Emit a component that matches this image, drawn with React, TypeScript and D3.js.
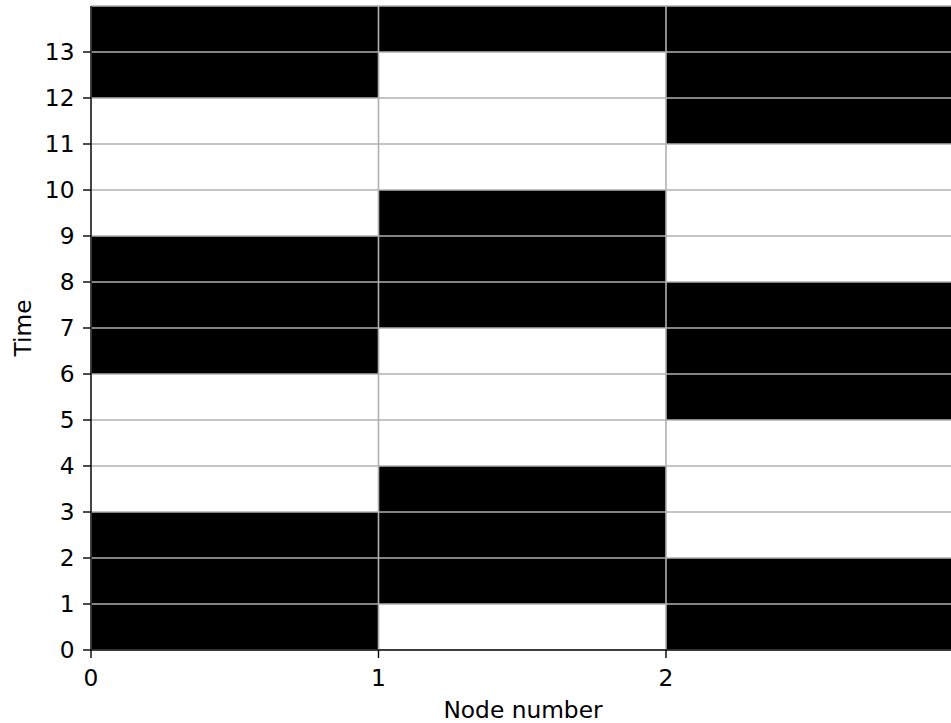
import React from "react";
import * as d3 from "d3";

const nodes = [0, 1, 2];
const times = [0, 1, 2, 3, 4, 5, 6, 7, 8, 9, 10, 11, 12, 13];
const node0 = [1, 1, 1, 0, 0, 0, 1, 1, 1, 0, 0, 0, 1, 1];
const node1 = [0, 1, 1, 1, 0, 0, 0, 1, 1, 1, 0, 0, 0, 1];
const node2 = [1, 1, 0, 0, 0, 1, 1, 1, 0, 0, 0, 1, 1, 1];
const states = [node0, node1, node2];
const xTicks = [0, 1, 2];
const yTicks = [0, 1, 2, 3, 4, 5, 6, 7, 8, 9, 10, 11, 12, 13];

const W = 951;
const H = 723;
const FONT = "DejaVu Sans, sans-serif";

export default function App() {
  const left = 91;
  const right = 953.5;
  const bottom = 650;
  const top = 6;
  const x = d3.scaleLinear().domain([0, 3]).range([left, right]);
  const y = d3.scaleLinear().domain([0, 14]).range([bottom, top]);
  const fs = 23.3;

  const cells: React.ReactNode[] = [];
  states.forEach((col, n) => {
    col.forEach((v, t) => {
      cells.push(
        <rect
          key={`c${n}-${t}`}
          x={x(nodes[n])}
          y={y(times[t] + 1)}
          width={x(nodes[n] + 1) - x(nodes[n])}
          height={y(times[t]) - y(times[t] + 1)}
          fill={v ? "#000" : "#fff"}
        />
      );
    });
  });

  const hLines = d3.range(0, 15);
  const vLines = d3.range(0, 4);

  return (
    <svg
      width={W}
      height={H}
      style={{ position: "fixed", left: 0, top: 0, background: "#fff" }}
      fontFamily={FONT}
    >
      <rect x={0} y={0} width={W} height={H} fill="#fff" />
      {cells}
      {hLines.map((h) => (
        <line key={`h${h}`} x1={x(0)} x2={x(3)} y1={y(h)} y2={y(h)} stroke="#b0b0b0" strokeWidth={1.6} />
      ))}
      {vLines.map((v) => (
        <line key={`v${v}`} x1={x(v)} x2={x(v)} y1={y(0)} y2={y(14)} stroke="#b0b0b0" strokeWidth={1.6} />
      ))}
      {/* spines */}
      <line x1={left} x2={left} y1={top} y2={bottom} stroke="#111" strokeWidth={1.4} />
      <line x1={left} x2={right} y1={bottom} y2={bottom} stroke="#111" strokeWidth={1.4} />
      {/* y ticks */}
      {yTicks.map((t) => (
        <g key={`yt${t}`}>
          <line x1={left - 8} x2={left} y1={y(t)} y2={y(t)} stroke="#000" strokeWidth={1.4} />
          <text x={left - 16.5} y={y(t)} dy="0.33em" textAnchor="end" fontSize={fs} fill="#000">
            {t}
          </text>
        </g>
      ))}
      {/* x ticks */}
      {xTicks.map((t) => (
        <g key={`xt${t}`}>
          <line x1={x(t)} x2={x(t)} y1={bottom} y2={bottom + 8} stroke="#000" strokeWidth={1.4} />
          <text x={x(t)} y={685.5} textAnchor="middle" fontSize={fs} fill="#000">
            {t}
          </text>
        </g>
      ))}
      <text x={523} y={718} textAnchor="middle" fontSize={fs} fill="#000">
        Node number
      </text>
      <text
        transform={`translate(30.5, ${(top + bottom) / 2}) rotate(-90)`}
        textAnchor="middle"
        fontSize={fs}
        fill="#000"
      >
        Time
      </text>
    </svg>
  );
}
